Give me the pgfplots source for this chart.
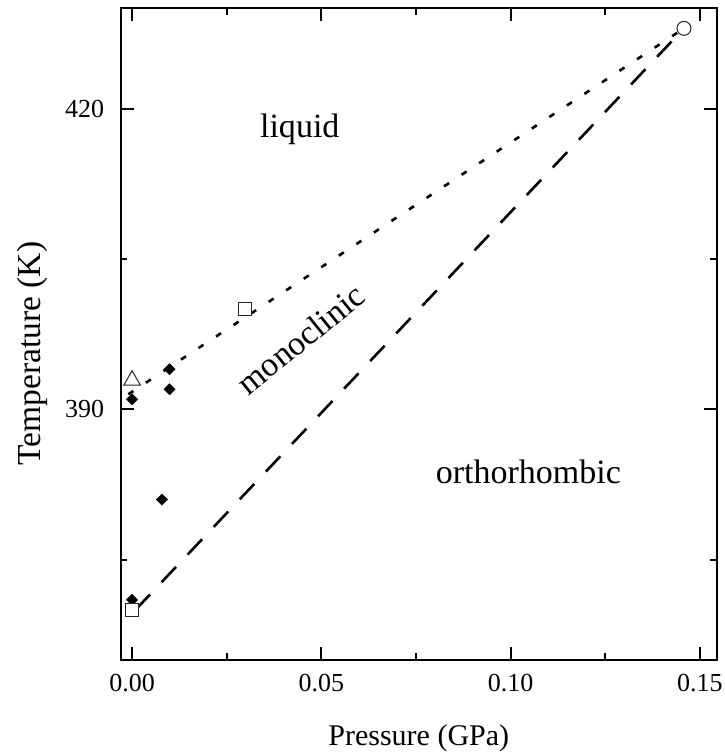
\documentclass[border=0pt]{standalone}
\usepackage{fontspec}
\setmainfont{Liberation Serif}
\usepackage{pgfplots}
\pgfplotsset{compat=1.18}

\begin{document}
\begin{tikzpicture}
% fixed frame: the page keeps the reference's margins around the axis box
\useasboundingbox (-120.7pt,-93pt) rectangle (603.3pt,659.8pt);
\begin{axis}[
  at={(0pt,0pt)}, anchor=south west,
  scale only axis,
  width=596pt, height=651.5pt,
  xmin=-0.003, xmax=0.1545,
  ymin=365, ymax=430,
  xtick={0,0.05,0.1,0.15},
  xticklabels={0.00,0.05,0.10,0.15},
  minor xtick={0.025,0.075,0.125},
  ytick={390,420},
  yticklabels={390,420},
  minor ytick={375,405},
  tick align=inside,
  major tick length=13pt,
  minor tick length=6.5pt,
  every tick/.style={black, line width=2pt},
  axis line style={line width=2pt},
  tick label style={font=\fontsize{26}{30}\selectfont},
  xticklabel style={yshift=-11pt},
  yticklabel style={xshift=-13pt},
  label style={font=\fontsize{30}{34}\selectfont},
  xlabel={Pressure (GPa)},
  ylabel={Temperature (K)},
  xlabel style={at={(axis description cs:0.5,0)}, anchor=center, yshift=-78pt},
  ylabel style={at={(axis description cs:-0.148,0.47)}, anchor=center, font=\fontsize{33.5}{37}\selectfont},
  clip=false,
]
% phase boundaries
\addplot[black, line width=2.6pt, dash pattern=on 6pt off 15pt] coordinates {(-0.001,391.5) (0.1458,428)};
\addplot[black, line width=2.6pt, dash pattern=on 21pt off 17pt] coordinates {(0.0009,370) (0.1458,428)};
% measured points
\addplot[only marks, mark=square*, mark size=4pt, mark options={rotate=45, fill=black, draw=black}] coordinates {
  (0,391.0) (0.0099,394.0) (0.0099,392.0) (0.0079,381.0) (0,371.0)
};
\addplot[only marks, mark=square*, mark size=6.5pt, mark options={draw=black!85, line width=1pt, fill=white}] coordinates {(0,370.0) (0.0299,400.0)};
\addplot[only marks, mark=triangle*, mark size=9.5pt, mark options={draw=black!85, line width=1pt, fill=white}] coordinates {(0,392.9)};
\addplot[only marks, mark=*, mark size=7pt, mark options={draw=black!85, line width=1pt, fill=white}] coordinates {(0.1458,428.0)};
% phase labels
\node[font=\fontsize{34}{38}\selectfont] at (axis cs:0.0443,417.9) {liquid};
\node[font=\fontsize{34}{38}\selectfont, rotate=39] at (axis cs:0.0445,397.0) {monoclinic};
\node[font=\fontsize{34}{38}\selectfont] at (axis cs:0.1047,383.8) {orthorhombic};
\end{axis}
\end{tikzpicture}
\end{document}
